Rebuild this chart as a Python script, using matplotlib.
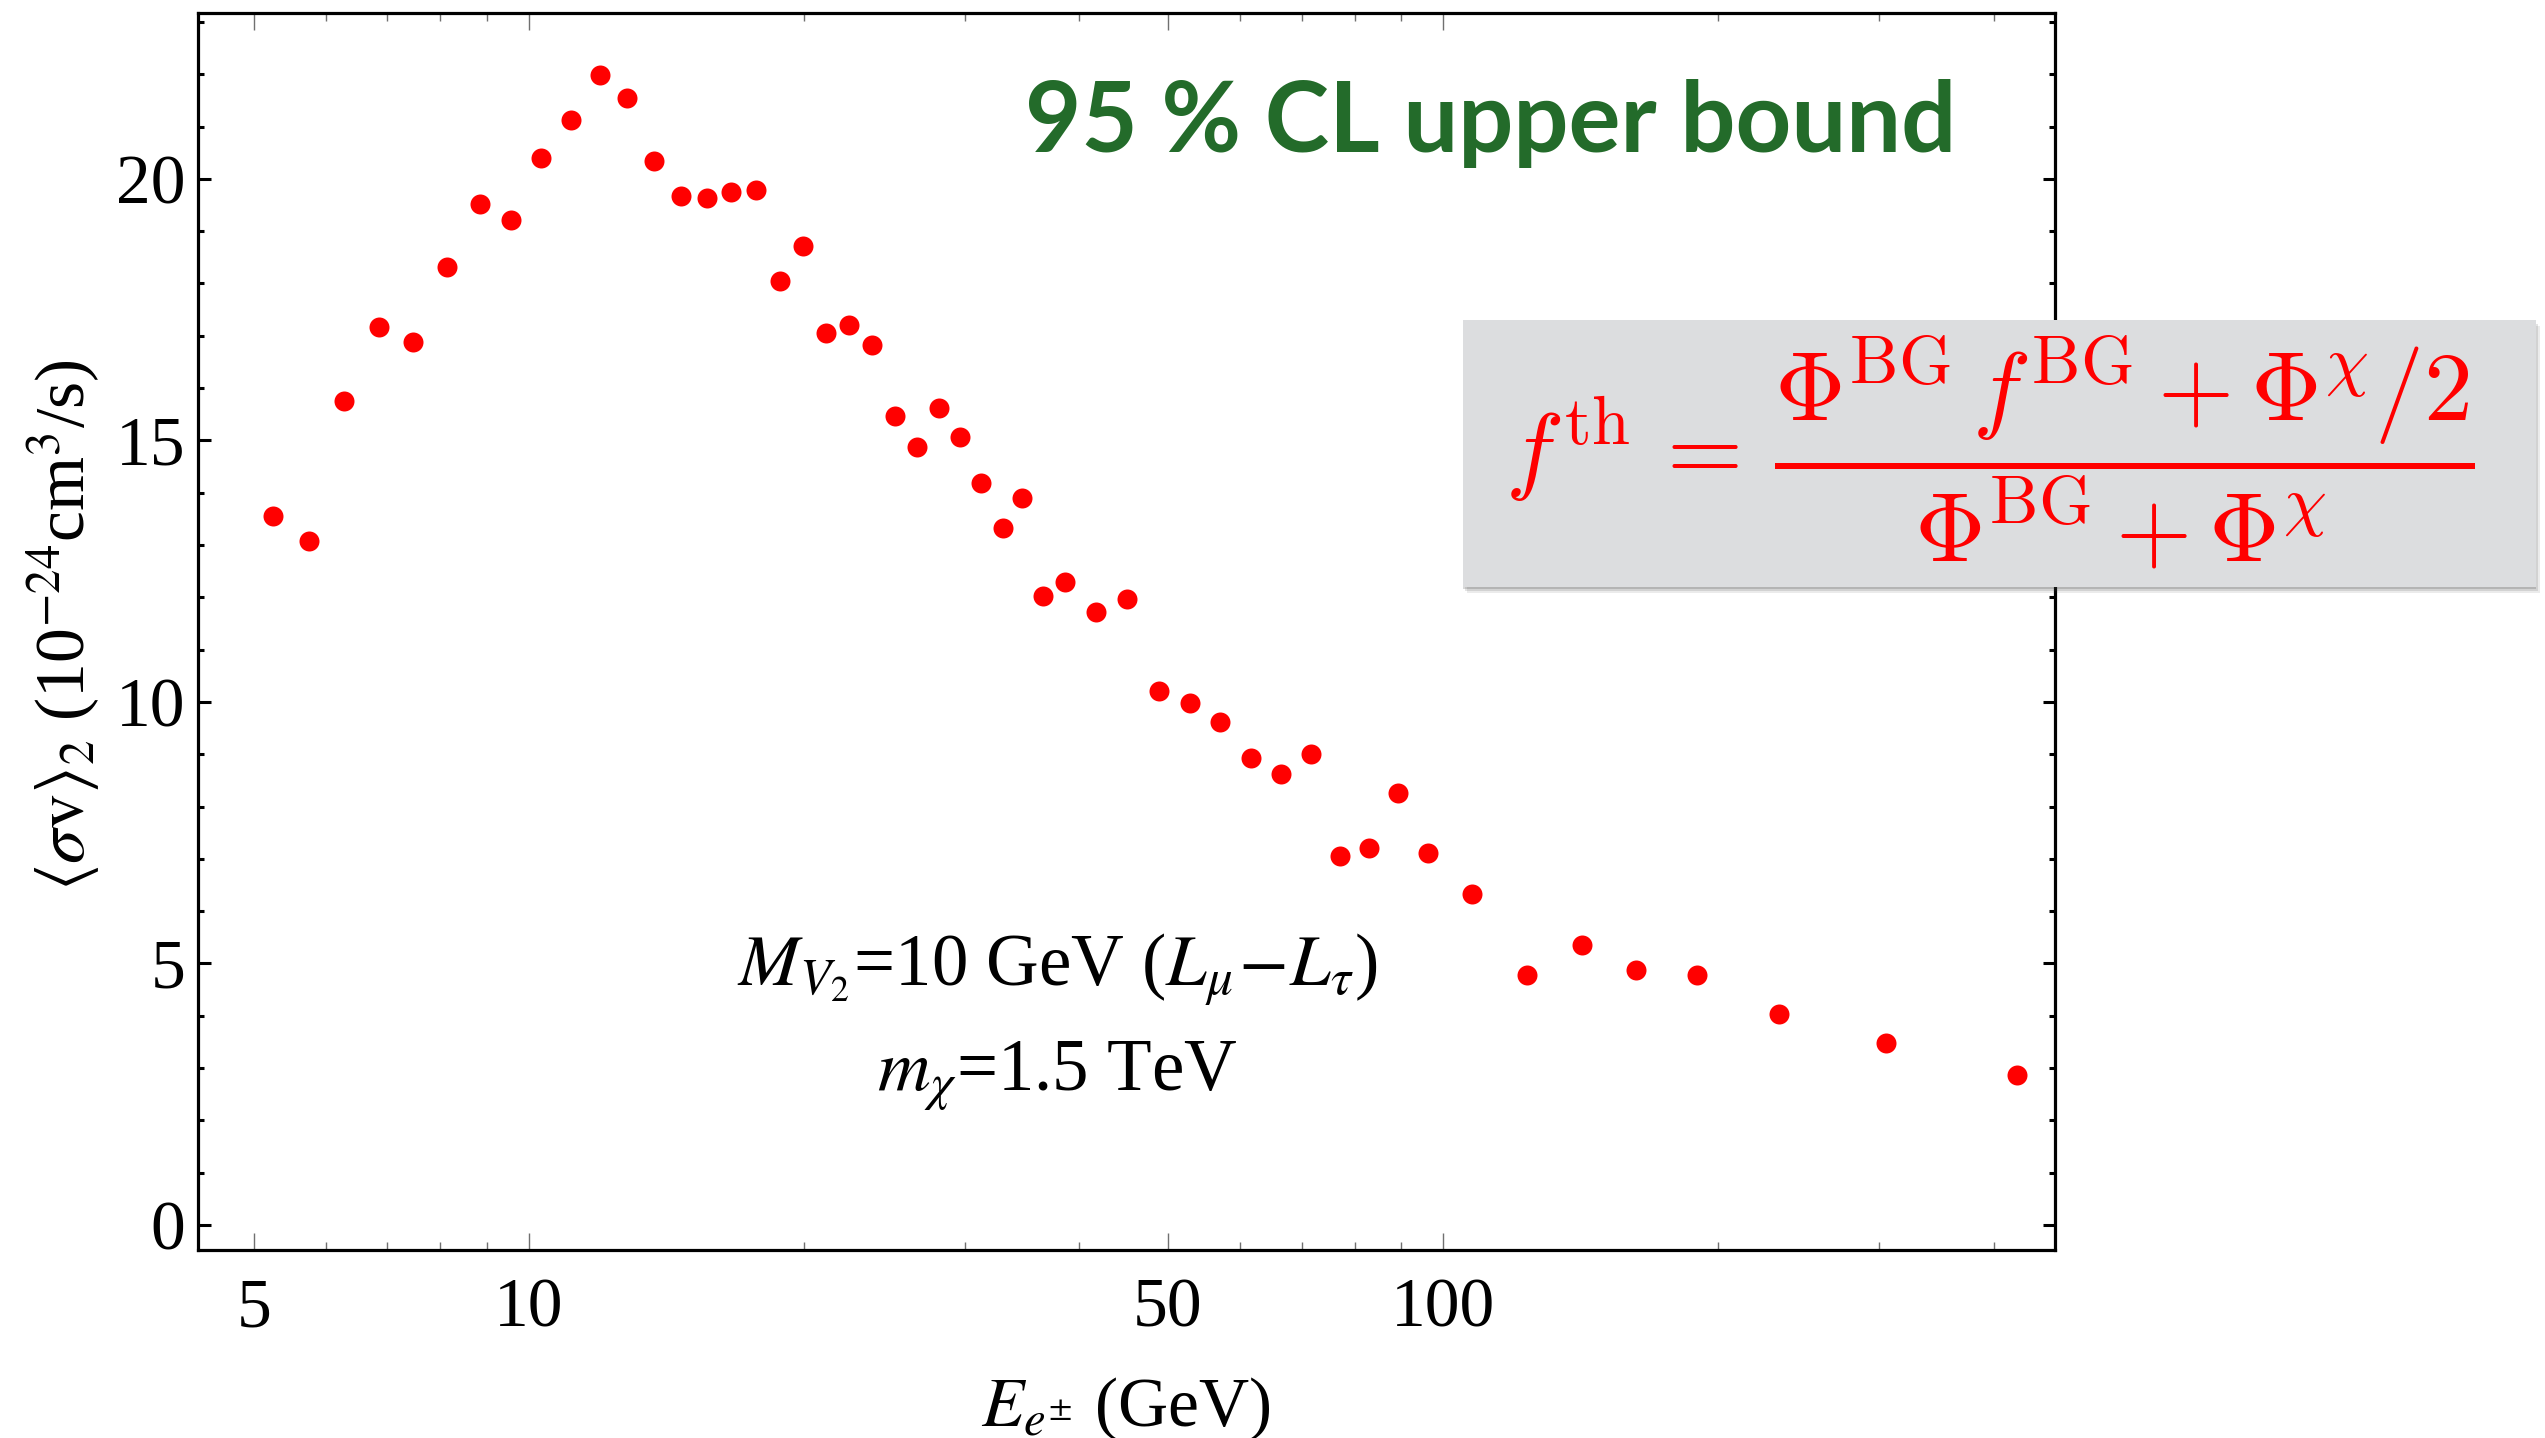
import matplotlib
matplotlib.use("Agg")
import matplotlib.pyplot as plt
from matplotlib.patches import Rectangle
from matplotlib.ticker import FixedLocator, FixedFormatter, NullFormatter

# Upper bound on <sigma v>_2 per positron/electron energy bin
energy_gev = [5.245, 5.745, 6.272, 6.855, 7.475, 8.141, 8.847, 9.561, 10.32, 11.12,
              11.95, 12.81, 13.70, 14.68, 15.65, 16.64, 17.71, 18.80, 19.93, 21.13,
              22.38, 23.74, 25.15, 26.58, 28.08, 29.65, 31.26, 32.97, 34.64, 36.47,
              38.63, 41.67, 45.12, 48.92, 52.89, 57.06, 61.66, 66.43, 71.70, 77.06,
              82.99, 89.22, 96.27, 107.6, 123.5, 141.8, 162.5, 189.5, 233.0, 305.2,
              424.9]
sigma_v = [13.55, 13.07, 15.75, 17.16, 16.88, 18.32, 19.52, 19.22, 20.39, 21.13,
           21.98, 21.55, 20.35, 19.68, 19.64, 19.75, 19.78, 18.05, 18.71, 17.06,
           17.21, 16.82, 15.47, 14.88, 15.61, 15.06, 14.19, 13.33, 13.89, 12.02,
           12.29, 11.72, 11.97, 10.21, 9.98, 9.61, 8.92, 8.62, 9.00, 7.06,
           7.21, 8.25, 7.12, 6.33, 4.78, 5.36, 4.87, 4.78, 4.04, 3.48,
           2.87]

x_major = [5, 10, 50, 100]
x_major_labels = ["5", "10", "50", "100"]
x_minor = [6, 7, 8, 9, 20, 30, 40, 60, 70, 80, 90, 200, 300, 400]
y_major = [0, 5, 10, 15, 20]
y_minor = list(range(0, 24))

W, H, DPI = 2545, 1438, 100
plt.rcParams["font.family"] = ["Liberation Serif", "DejaVu Serif"]
plt.rcParams["mathtext.fontset"] = "stix"

fig = plt.figure(figsize=(W / DPI, H / DPI), dpi=DPI)


def fx(px):
    return px / W


def fy(py):
    return 1 - py / H


ax = fig.add_axes([fx(198), fy(1250), fx(2055) - fx(198), fy(13) - fy(1250)])
ax.plot(energy_gev, sigma_v, linestyle="none", marker="o", markersize=14.4,
        markeredgewidth=0, color="#ff0000", zorder=3)

ax.set_xscale("log")
ax.set_xlim(4.345, 467)
ax.set_ylim(-0.478, 23.17)

ax.xaxis.set_major_locator(FixedLocator(x_major))
ax.xaxis.set_major_formatter(FixedFormatter(x_major_labels))
ax.xaxis.set_minor_locator(FixedLocator(x_minor))
ax.xaxis.set_minor_formatter(NullFormatter())
ax.yaxis.set_major_locator(FixedLocator(y_major))
ax.yaxis.set_minor_locator(FixedLocator(y_minor))

for s in ax.spines.values():
    s.set_linewidth(2.3)

ax.tick_params(axis="x", which="both", direction="in", top=True, color="#707070",
               width=1.0, labelsize=50, pad=20)
ax.tick_params(axis="x", which="major", length=12.5)
ax.tick_params(axis="x", which="minor", length=6)
ax.tick_params(axis="y", which="both", direction="in", right=True, color="black",
               width=2.2, labelsize=50, pad=9)
ax.tick_params(axis="y", which="major", length=9)
ax.tick_params(axis="y", which="minor", length=4.5)

# Axis labels
fig.text(fx(1126), fy(1426), r"$E_{e^{\pm}}$ (GeV)", ha="center", va="baseline",
         fontsize=50)
fig.text(fx(64), fy(625), r"$\langle\sigma\mathrm{v}\rangle_2$ (10$^{-24}$cm$^3$/s)",
         rotation=90, ha="center", va="center", fontsize=50)

# Model parameters
fig.text(fx(1057), fy(986), r"$M_{V_2}$=10 GeV ($L_\mu\!-\!L_\tau$)",
         ha="center", va="baseline", fontsize=52.5)
fig.text(fx(1057), fy(1091), r"$m_\chi$=1.5 TeV",
         ha="center", va="baseline", fontsize=52.5)

# Title
fig.text(fx(1956), fy(152), "95 % CL upper bound", ha="right", va="baseline",
         fontfamily="Lato", fontweight="bold", fontsize=70, color="#236b2a")

# Formula box with soft shadow
bx0, by0, bx1, by1 = 1463, 320, 2536, 587
for i, a in enumerate([0.10, 0.14, 0.20]):
    off = 6 - 2 * i
    fig.patches.append(Rectangle((fx(bx0 + off - 2), fy(by1 + off)),
                                 fx(bx1 - bx0), fy(by0) - fy(by1),
                                 transform=fig.transFigure, facecolor="#404040",
                                 edgecolor="none", alpha=a, zorder=4))
fig.patches.append(Rectangle((fx(bx0), fy(by1)), fx(bx1 - bx0), fy(by0) - fy(by1),
                             transform=fig.transFigure, facecolor="#dcdddf",
                             edgecolor="none", zorder=5))
fig.text(fx(1990), fy(452),
         r"$f^{\rm th} \,=\, \dfrac{\Phi^{\rm BG}\, f^{\rm BG} + \Phi^{\chi}/2}{\Phi^{\rm BG} + \Phi^{\chi}}$",
         math_fontfamily="cm", color="#ff0000", fontsize=70.5,
         ha="center", va="center", zorder=6)

fig.savefig("out.png", dpi=DPI)
